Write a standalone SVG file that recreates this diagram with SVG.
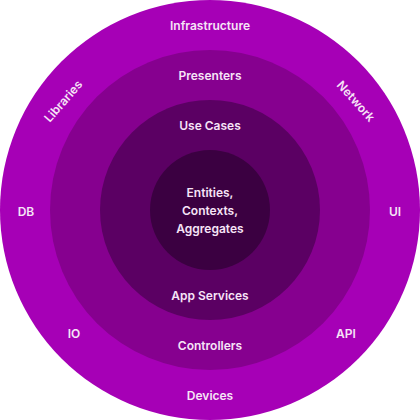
<svg xmlns="http://www.w3.org/2000/svg" width="420" height="420" viewBox="0 0 420 420">
<style>
text{font-family:Inter,"Open Sans","Noto Sans",sans-serif;font-size:12px;font-weight:600;fill:#f6e4f7;text-anchor:middle;dominant-baseline:central}
</style>
<rect width="420" height="420" fill="#ffffff"/>
<g id="infrastructure"><circle cx="210" cy="210" r="210" fill="#a600b6"/>
<text x="210" y="25">Infrastructure</text>
<text x="26" y="211">DB</text>
<text x="395" y="211">UI</text>
<text x="74" y="333">IO</text>
<text x="346" y="333">API</text>
<text x="210" y="395">Devices</text>
<text x="0" y="0" transform="translate(63,101) rotate(-49)">Libraries</text>
<text x="0" y="0" transform="translate(356,101) rotate(48)">Network</text>
</g>
<g id="presenters"><circle cx="210" cy="210" r="160" fill="#86008f"/>
<text x="210" y="75">Presenters</text>
<text x="210" y="345">Controllers</text>
</g>
<g id="usecases"><circle cx="210" cy="210" r="110" fill="#5b0063"/>
<text x="210" y="125">Use Cases</text>
<text x="210" y="295">App Services</text>
</g>
<g id="entities"><circle cx="210" cy="210" r="60" fill="#3b0041"/>
<text x="210" y="192">Entities,</text>
<text x="210" y="210">Contexts,</text>
<text x="210" y="228">Aggregates</text>
</g>
<g id="connectors"></g>
</svg>
